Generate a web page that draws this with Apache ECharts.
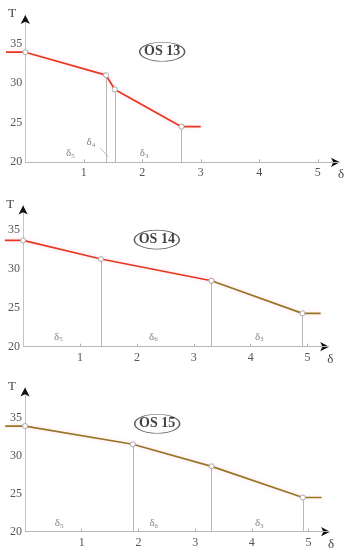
<!DOCTYPE html>
<html><head><meta charset="utf-8">
<script src="https://cdn.jsdelivr.net/npm/echarts@6/dist/echarts.min.js"></script>
<style>html,body{margin:0;padding:0;background:#fff}#c{width:351px;height:550px}</style>
</head><body><div id="c"></div>
<script>
// ---- data ----
const titles = ['OS 13', 'OS 14', 'OS 15'];
const titleDelta = [2.34, 2.35, 2.33];
const titleT = [33.96, 33.8, 34.2];

const os13Delta = [-0.33, 0, 1.38, 1.53, 2.67, 3.0];
const os13T = [33.9, 33.9, 31.0, 29.2, 24.5, 24.5];
const os14Delta = [-0.32, 0, 1.37, 3.31, 4.91, 5.23];
const os14T = [33.7, 33.7, 31.3, 28.5, 24.3, 24.3];
const os15Delta = [-0.35, 0, 1.90, 3.29, 4.90, 5.23];
const os15T = [33.9, 33.9, 31.5, 28.6, 24.5, 24.5];
// index where the red part ends (brown after); -1 = all brown, 99 = all red
const redUntil = [99, 3, -1];

const zoneSub13 = ['5', '4', '3'];
const zoneDelta13 = [0.77, 1.12, 2.03];
const zoneT13 = [21.2, 22.6, 21.2];
const zoneSub14 = ['5', '6', '3'];
const zoneDelta14 = [0.62, 2.29, 4.15];
const zoneT14 = [21.3, 21.3, 21.3];
const zoneSub15 = ['5', '6', '3'];
const zoneDelta15 = [0.60, 2.27, 4.13];
const zoneT15 = [21.1, 21.1, 21.1];
const leader13Delta = [1.28, 1.42];
const leader13T = [21.8, 20.7];

const xTickValues = [1, 2, 3, 4, 5];
const yTickValues = [25, 30, 35];
const yLabelValues = [20, 25, 30, 35];

// ---- layout ----
const grids = [
  {left: 6, top: 15, width: 334, height: 147.3, xMin: -0.33, xMax: 5.38, yMax: 38.6},
  {left: 4.9, top: 205.5, width: 324.3, height: 141.2, xMin: -0.32, xMax: 5.38, yMax: 38.2},
  {left: 5.2, top: 387.5, width: 324.9, height: 144.2, xMin: -0.35, xMax: 5.38, yMax: 38.97}
];
const RED = '#e8361f', BROWN = '#9a7423', AXIS = '#c4c4c4';
const FONT = '"Liberation Serif", "DejaVu Serif", serif';

const curves = [[os13Delta, os13T], [os14Delta, os14T], [os15Delta, os15T]];
const zones = [[zoneSub13, zoneDelta13, zoneT13], [zoneSub14, zoneDelta14, zoneT14], [zoneSub15, zoneDelta15, zoneT15]];

const option = {animation: false, backgroundColor: '#fff', grid: [], xAxis: [], yAxis: [], series: []};

grids.forEach((g, i) => {
  const zeroOffset = -g.xMin * g.width / (g.xMax - g.xMin);
  option.grid.push({left: g.left, top: g.top, width: g.width, height: g.height, containLabel: false, outerBoundsMode: 'none'});
  // main axes
  option.xAxis.push({
    type: 'value', gridIndex: i, min: g.xMin, max: g.xMax,
    axisLine: {show: false, onZero: false},
    axisTick: {show: true, inside: true, length: 3, customValues: xTickValues, lineStyle: {color: '#aaa'}},
    axisLabel: {show: true, customValues: xTickValues, margin: 5, color: '#555', fontFamily: FONT, fontSize: 12},
    splitLine: {show: false}
  });
  option.yAxis.push({
    type: 'value', gridIndex: i, min: 20, max: g.yMax,
    axisLine: {show: true, onZero: true, lineStyle: {color: AXIS, width: 1}},
    axisTick: {show: false},
    axisLabel: {show: true, customValues: yLabelValues, margin: 3 - zeroOffset, color: '#555', fontFamily: FONT, fontSize: 12,
      verticalAlign: 'middle', padding: [0, 0, 9, 0]},
    splitLine: {show: false}
  });
  // arrow axes
  option.xAxis.push({
    type: 'value', gridIndex: i, min: g.xMin, max: g.xMax, position: 'bottom',
    name: 'δ', nameLocation: 'end', nameGap: 1,
    nameTextStyle: {color: '#444', fontFamily: FONT, fontSize: 13, verticalAlign: 'top', align: 'center', padding: [6, 0, 0, 0]},
    axisLine: {show: true, onZero: false, symbol: ['none', 'arrow'], symbolSize: [7, 9], lineStyle: {color: '#111', width: 0}},
    axisTick: {show: false}, axisLabel: {show: false}, splitLine: {show: false}
  });
  option.yAxis.push({
    type: 'value', gridIndex: i, min: 20, max: g.yMax, position: 'left',
    name: 'T', nameLocation: 'end', nameGap: 1,
    nameTextStyle: {color: '#444', fontFamily: FONT, fontSize: 13, align: 'right', verticalAlign: 'middle', padding: [0, 9, 0, 0]},
    axisLine: {show: true, onZero: true, onZeroAxisIndex: i * 2, symbol: ['none', 'arrow'], symbolSize: [7, 9], lineStyle: {color: '#111', width: 0}},
    axisTick: {show: false}, axisLabel: {show: false}, splitLine: {show: false}
  });

  const xi = i * 2, yi = i * 2;
  const [ds, ts] = curves[i];
  const n = ds.length;
  const pts = ds.map((d, k) => [d, ts[k]]);
  const toItem = (p, k) => ({value: p, symbol: (k === 0 || k === n - 1) ? 'none' : 'circle'});
  const r = redUntil[i];
  const segs = [];
  if (r >= n - 1) segs.push({from: 0, to: n - 1, color: RED});
  else if (r < 0) segs.push({from: 0, to: n - 1, color: BROWN});
  else { segs.push({from: 0, to: r, color: RED}); segs.push({from: r, to: n - 1, color: BROWN}); }
  segs.forEach(s => {
    const data = [];
    for (let k = s.from; k <= s.to; k++) data.push(toItem(pts[k], k));
    option.series.push({
      type: 'line', xAxisIndex: xi, yAxisIndex: yi, data: data, z: 5,
      symbolSize: 5, showAllSymbol: true,
      lineStyle: {color: s.color, width: 1.7, shadowColor: 'rgba(255,140,190,0.35)', shadowBlur: 5},
      itemStyle: {color: '#fff', borderColor: '#aaa', borderWidth: 1}
    });
  });
  // x axis line from the origin, plus verticals from the breakpoints down to the axis
  const vData = [[{coord: [0, 20]}, {coord: [g.xMax, 20]}]];
  for (let k = 2; k < n - 1; k++) vData.push([{coord: [ds[k], 20]}, {coord: [ds[k], ts[k]]}]);
  option.series.push({
    type: 'line', xAxisIndex: xi, yAxisIndex: yi, data: [], z: 3,
    markLine: {silent: true, symbol: ['none', 'none'], label: {show: false}, precision: 4,
      lineStyle: {color: '#b8b8b8', width: 1, type: 'solid'}, data: vData}
  });
  // zone labels
  const [subs, zd, zt] = zones[i];
  option.series.push({
    type: 'scatter', xAxisIndex: xi, yAxisIndex: yi, symbolSize: 0, z: 6,
    data: subs.map((s, k) => ({value: [zd[k], zt[k]], sub: s})),
    label: {show: true, position: 'inside',
      formatter: p => '{d|δ}{s|' + p.data.sub + '}',
      rich: {d: {fontFamily: FONT, fontSize: 11, color: '#666'}, s: {fontFamily: FONT, fontSize: 7, color: '#666', padding: [6, 0, 0, 0]}}}
  });
  // title ellipse
  option.series.push({
    type: 'scatter', xAxisIndex: xi, yAxisIndex: yi, z: 7,
    symbol: 'circle', symbolSize: [45, 19],
    itemStyle: {color: '#fff', borderColor: '#333', borderWidth: 1},
    data: [[titleDelta[i], titleT[i]]],
    label: {show: true, position: 'inside', formatter: titles[i], color: '#111', fontFamily: FONT, fontSize: 14, fontWeight: 'bold'}
  });
});
// δ4 leader line (top chart)
option.series.push({
  type: 'line', xAxisIndex: 0, yAxisIndex: 0, symbol: 'none', z: 4,
  lineStyle: {color: '#aaa', width: 0.8},
  data: leader13Delta.map((d, k) => [d, leader13T[k]])
});

const chart = echarts.init(document.getElementById('c'), null, {renderer: 'canvas'});
chart.setOption(option);
</script></body></html>
